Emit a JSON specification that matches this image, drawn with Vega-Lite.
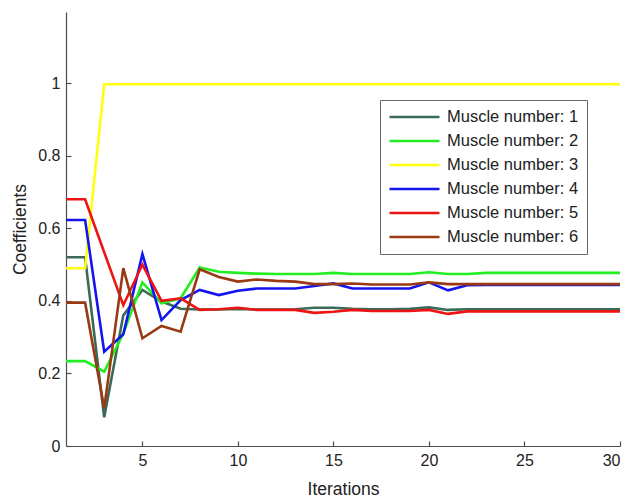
{
  "$schema": "https://vega.github.io/schema/vega-lite/v6.json",
  "autosize": {"type": "none"},
  "padding": {"left": 66, "top": 12, "right": 10, "bottom": 53},
  "width": 554,
  "height": 434,
  "background": "white",
  "config": {
    "view": {"stroke": null},
    "font": "Liberation Sans",
    "axis": {"grid": false, "domainColor": "#4d4d4d", "tickColor": "#4d4d4d", "labelColor": "#222222", "titleColor": "#222222", "labelFont": "Liberation Sans", "titleFont": "Liberation Sans", "labelFontSize": 16, "titleFontSize": 17.5, "titleFontWeight": "normal", "domainWidth": 1.2, "tickWidth": 1.2}
  },
  "data": {
    "values": [
      {"iter":1,"series":"Muscle number: 1","value":0.52},{"iter":2,"series":"Muscle number: 1","value":0.52},{"iter":3,"series":"Muscle number: 1","value":0.079},{"iter":4,"series":"Muscle number: 1","value":0.36},{"iter":5,"series":"Muscle number: 1","value":0.43},{"iter":6,"series":"Muscle number: 1","value":0.398},{"iter":7,"series":"Muscle number: 1","value":0.378},{"iter":8,"series":"Muscle number: 1","value":0.376},{"iter":9,"series":"Muscle number: 1","value":0.376},{"iter":10,"series":"Muscle number: 1","value":0.378},{"iter":11,"series":"Muscle number: 1","value":0.376},{"iter":12,"series":"Muscle number: 1","value":0.376},{"iter":13,"series":"Muscle number: 1","value":0.377},{"iter":14,"series":"Muscle number: 1","value":0.381},{"iter":15,"series":"Muscle number: 1","value":0.381},{"iter":16,"series":"Muscle number: 1","value":0.378},{"iter":17,"series":"Muscle number: 1","value":0.377},{"iter":18,"series":"Muscle number: 1","value":0.377},{"iter":19,"series":"Muscle number: 1","value":0.378},{"iter":20,"series":"Muscle number: 1","value":0.382},{"iter":21,"series":"Muscle number: 1","value":0.375},{"iter":22,"series":"Muscle number: 1","value":0.377},{"iter":23,"series":"Muscle number: 1","value":0.377},{"iter":24,"series":"Muscle number: 1","value":0.377},{"iter":25,"series":"Muscle number: 1","value":0.377},{"iter":26,"series":"Muscle number: 1","value":0.377},{"iter":27,"series":"Muscle number: 1","value":0.377},{"iter":28,"series":"Muscle number: 1","value":0.377},{"iter":29,"series":"Muscle number: 1","value":0.377},{"iter":30,"series":"Muscle number: 1","value":0.377},
      {"iter":1,"series":"Muscle number: 2","value":0.234},{"iter":2,"series":"Muscle number: 2","value":0.234},{"iter":3,"series":"Muscle number: 2","value":0.205},{"iter":4,"series":"Muscle number: 2","value":0.31},{"iter":5,"series":"Muscle number: 2","value":0.451},{"iter":6,"series":"Muscle number: 2","value":0.393},{"iter":7,"series":"Muscle number: 2","value":0.407},{"iter":8,"series":"Muscle number: 2","value":0.492},{"iter":9,"series":"Muscle number: 2","value":0.48},{"iter":10,"series":"Muscle number: 2","value":0.477},{"iter":11,"series":"Muscle number: 2","value":0.475},{"iter":12,"series":"Muscle number: 2","value":0.474},{"iter":13,"series":"Muscle number: 2","value":0.474},{"iter":14,"series":"Muscle number: 2","value":0.474},{"iter":15,"series":"Muscle number: 2","value":0.477},{"iter":16,"series":"Muscle number: 2","value":0.474},{"iter":17,"series":"Muscle number: 2","value":0.474},{"iter":18,"series":"Muscle number: 2","value":0.474},{"iter":19,"series":"Muscle number: 2","value":0.474},{"iter":20,"series":"Muscle number: 2","value":0.479},{"iter":21,"series":"Muscle number: 2","value":0.474},{"iter":22,"series":"Muscle number: 2","value":0.474},{"iter":23,"series":"Muscle number: 2","value":0.477},{"iter":24,"series":"Muscle number: 2","value":0.477},{"iter":25,"series":"Muscle number: 2","value":0.477},{"iter":26,"series":"Muscle number: 2","value":0.477},{"iter":27,"series":"Muscle number: 2","value":0.477},{"iter":28,"series":"Muscle number: 2","value":0.477},{"iter":29,"series":"Muscle number: 2","value":0.477},{"iter":30,"series":"Muscle number: 2","value":0.477},
      {"iter":1,"series":"Muscle number: 3","value":0.49},{"iter":2,"series":"Muscle number: 3","value":0.49},{"iter":3,"series":"Muscle number: 3","value":0.997},{"iter":4,"series":"Muscle number: 3","value":0.997},{"iter":5,"series":"Muscle number: 3","value":0.997},{"iter":6,"series":"Muscle number: 3","value":0.997},{"iter":7,"series":"Muscle number: 3","value":0.997},{"iter":8,"series":"Muscle number: 3","value":0.997},{"iter":9,"series":"Muscle number: 3","value":0.997},{"iter":10,"series":"Muscle number: 3","value":0.997},{"iter":11,"series":"Muscle number: 3","value":0.997},{"iter":12,"series":"Muscle number: 3","value":0.997},{"iter":13,"series":"Muscle number: 3","value":0.997},{"iter":14,"series":"Muscle number: 3","value":0.997},{"iter":15,"series":"Muscle number: 3","value":0.997},{"iter":16,"series":"Muscle number: 3","value":0.997},{"iter":17,"series":"Muscle number: 3","value":0.997},{"iter":18,"series":"Muscle number: 3","value":0.997},{"iter":19,"series":"Muscle number: 3","value":0.997},{"iter":20,"series":"Muscle number: 3","value":0.997},{"iter":21,"series":"Muscle number: 3","value":0.997},{"iter":22,"series":"Muscle number: 3","value":0.997},{"iter":23,"series":"Muscle number: 3","value":0.997},{"iter":24,"series":"Muscle number: 3","value":0.997},{"iter":25,"series":"Muscle number: 3","value":0.997},{"iter":26,"series":"Muscle number: 3","value":0.997},{"iter":27,"series":"Muscle number: 3","value":0.997},{"iter":28,"series":"Muscle number: 3","value":0.997},{"iter":29,"series":"Muscle number: 3","value":0.997},{"iter":30,"series":"Muscle number: 3","value":0.997},
      {"iter":1,"series":"Muscle number: 4","value":0.623},{"iter":2,"series":"Muscle number: 4","value":0.623},{"iter":3,"series":"Muscle number: 4","value":0.26},{"iter":4,"series":"Muscle number: 4","value":0.308},{"iter":5,"series":"Muscle number: 4","value":0.529},{"iter":6,"series":"Muscle number: 4","value":0.347},{"iter":7,"series":"Muscle number: 4","value":0.402},{"iter":8,"series":"Muscle number: 4","value":0.43},{"iter":9,"series":"Muscle number: 4","value":0.416},{"iter":10,"series":"Muscle number: 4","value":0.428},{"iter":11,"series":"Muscle number: 4","value":0.434},{"iter":12,"series":"Muscle number: 4","value":0.434},{"iter":13,"series":"Muscle number: 4","value":0.434},{"iter":14,"series":"Muscle number: 4","value":0.441},{"iter":15,"series":"Muscle number: 4","value":0.448},{"iter":16,"series":"Muscle number: 4","value":0.434},{"iter":17,"series":"Muscle number: 4","value":0.434},{"iter":18,"series":"Muscle number: 4","value":0.434},{"iter":19,"series":"Muscle number: 4","value":0.434},{"iter":20,"series":"Muscle number: 4","value":0.451},{"iter":21,"series":"Muscle number: 4","value":0.429},{"iter":22,"series":"Muscle number: 4","value":0.443},{"iter":23,"series":"Muscle number: 4","value":0.444},{"iter":24,"series":"Muscle number: 4","value":0.444},{"iter":25,"series":"Muscle number: 4","value":0.444},{"iter":26,"series":"Muscle number: 4","value":0.444},{"iter":27,"series":"Muscle number: 4","value":0.444},{"iter":28,"series":"Muscle number: 4","value":0.444},{"iter":29,"series":"Muscle number: 4","value":0.444},{"iter":30,"series":"Muscle number: 4","value":0.444},
      {"iter":1,"series":"Muscle number: 5","value":0.68},{"iter":2,"series":"Muscle number: 5","value":0.68},{"iter":3,"series":"Muscle number: 5","value":0.534},{"iter":4,"series":"Muscle number: 5","value":0.388},{"iter":5,"series":"Muscle number: 5","value":0.5},{"iter":6,"series":"Muscle number: 5","value":0.4},{"iter":7,"series":"Muscle number: 5","value":0.407},{"iter":8,"series":"Muscle number: 5","value":0.375},{"iter":9,"series":"Muscle number: 5","value":0.377},{"iter":10,"series":"Muscle number: 5","value":0.381},{"iter":11,"series":"Muscle number: 5","value":0.375},{"iter":12,"series":"Muscle number: 5","value":0.375},{"iter":13,"series":"Muscle number: 5","value":0.375},{"iter":14,"series":"Muscle number: 5","value":0.367},{"iter":15,"series":"Muscle number: 5","value":0.37},{"iter":16,"series":"Muscle number: 5","value":0.375},{"iter":17,"series":"Muscle number: 5","value":0.372},{"iter":18,"series":"Muscle number: 5","value":0.372},{"iter":19,"series":"Muscle number: 5","value":0.372},{"iter":20,"series":"Muscle number: 5","value":0.375},{"iter":21,"series":"Muscle number: 5","value":0.364},{"iter":22,"series":"Muscle number: 5","value":0.371},{"iter":23,"series":"Muscle number: 5","value":0.371},{"iter":24,"series":"Muscle number: 5","value":0.371},{"iter":25,"series":"Muscle number: 5","value":0.371},{"iter":26,"series":"Muscle number: 5","value":0.371},{"iter":27,"series":"Muscle number: 5","value":0.371},{"iter":28,"series":"Muscle number: 5","value":0.371},{"iter":29,"series":"Muscle number: 5","value":0.371},{"iter":30,"series":"Muscle number: 5","value":0.371},
      {"iter":1,"series":"Muscle number: 6","value":0.395},{"iter":2,"series":"Muscle number: 6","value":0.395},{"iter":3,"series":"Muscle number: 6","value":0.104},{"iter":4,"series":"Muscle number: 6","value":0.49},{"iter":5,"series":"Muscle number: 6","value":0.297},{"iter":6,"series":"Muscle number: 6","value":0.331},{"iter":7,"series":"Muscle number: 6","value":0.315},{"iter":8,"series":"Muscle number: 6","value":0.487},{"iter":9,"series":"Muscle number: 6","value":0.466},{"iter":10,"series":"Muscle number: 6","value":0.453},{"iter":11,"series":"Muscle number: 6","value":0.459},{"iter":12,"series":"Muscle number: 6","value":0.455},{"iter":13,"series":"Muscle number: 6","value":0.453},{"iter":14,"series":"Muscle number: 6","value":0.446},{"iter":15,"series":"Muscle number: 6","value":0.446},{"iter":16,"series":"Muscle number: 6","value":0.448},{"iter":17,"series":"Muscle number: 6","value":0.445},{"iter":18,"series":"Muscle number: 6","value":0.445},{"iter":19,"series":"Muscle number: 6","value":0.445},{"iter":20,"series":"Muscle number: 6","value":0.451},{"iter":21,"series":"Muscle number: 6","value":0.446},{"iter":22,"series":"Muscle number: 6","value":0.446},{"iter":23,"series":"Muscle number: 6","value":0.446},{"iter":24,"series":"Muscle number: 6","value":0.446},{"iter":25,"series":"Muscle number: 6","value":0.446},{"iter":26,"series":"Muscle number: 6","value":0.446},{"iter":27,"series":"Muscle number: 6","value":0.446},{"iter":28,"series":"Muscle number: 6","value":0.446},{"iter":29,"series":"Muscle number: 6","value":0.446},{"iter":30,"series":"Muscle number: 6","value":0.446}
    ]
  },
  "mark": {"type": "line", "strokeWidth": 2.6, "clip": true},
  "encoding": {
    "x": {"field": "iter", "type": "quantitative", "scale": {"domain": [1, 30], "nice": false, "zero": false}, "axis": {"title": "Iterations", "values": [5, 10, 15, 20, 25, 30], "tickSize": -5, "labelPadding": 11, "titlePadding": 12}},
    "y": {"field": "value", "type": "quantitative", "scale": {"domain": [0, 1.196], "nice": false}, "axis": {"title": "Coefficients", "values": [0, 0.2, 0.4, 0.6, 0.8, 1], "format": "~g", "tickSize": -5, "labelPadding": 11, "titlePadding": 8}},
    "color": {"field": "series", "type": "nominal", "scale": {"domain": ["Muscle number: 1","Muscle number: 2","Muscle number: 3","Muscle number: 4","Muscle number: 5","Muscle number: 6"], "range": ["#3a6a58", "#22ee22", "#ffff11", "#1414ee", "#ee1414", "#993a14"]},
      "legend": {"title": null, "orient": "none", "legendX": 314, "legendY": 88, "symbolType": "stroke", "symbolSize": 2500, "symbolStrokeWidth": 2.6, "labelFontSize": 16.5, "labelFont": "Liberation Sans", "labelColor": "#222222", "labelOffset": 6, "padding": 8, "rowPadding": 6, "clipHeight": 18, "strokeColor": "#666666", "fillColor": "white", "labelLimit": 300}}
  }
}
